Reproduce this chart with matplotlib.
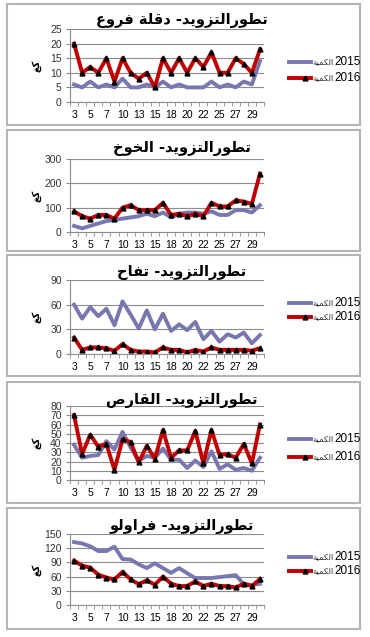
import matplotlib
matplotlib.use("Agg")
import matplotlib.pyplot as plt
from matplotlib.lines import Line2D
from matplotlib.patches import Rectangle

W, H = 370, 637

# x categories (day of month); only every other label is shown
days = ["3", "4", "5", "6", "7", "9", "10", "12", "13", "14", "15", "17",
        "18", "19", "20", "21", "22", "24", "25", "26", "27", "28", "29", "31"]

deglet_2015 = [6, 5, 7, 5, 6, 5, 8, 5, 5, 6, 5, 7, 5, 6, 5, 5, 5, 7, 5, 6, 5, 7, 6, 14]
deglet_2016 = [20, 10, 12, 10, 15, 7, 15, 10, 8, 10, 5, 15, 10, 15, 10, 15, 12, 17, 10, 10, 15, 13, 10, 18]

peach_2015 = [25, 15, 25, 35, 45, 50, 55, 60, 65, 75, 65, 80, 60, 75, 80, 80, 75, 85, 70, 70, 90, 90, 80, 110]
peach_2016 = [85, 65, 55, 70, 70, 55, 100, 110, 90, 90, 90, 120, 70, 75, 65, 75, 65, 120, 105, 105, 130, 125, 115, 240]

apple_2015 = [60, 43, 57, 46, 55, 35, 64, 48, 31, 53, 30, 49, 28, 36, 29, 39, 18, 28, 15, 24, 20, 26, 13, 23]
apple_2016 = [20, 5, 8, 8, 7, 4, 12, 5, 3, 3, 2, 8, 5, 5, 2, 5, 3, 8, 5, 5, 5, 5, 4, 7]

lemon_2015 = [38, 24, 26, 27, 42, 33, 52, 35, 21, 26, 24, 34, 22, 22, 13, 21, 14, 31, 12, 17, 11, 13, 10, 24]
lemon_2016 = [70, 28, 49, 36, 39, 11, 44, 41, 19, 37, 23, 54, 24, 32, 32, 53, 18, 54, 27, 28, 24, 39, 18, 60]

straw_2015 = [133, 130, 124, 114, 114, 123, 97, 96, 86, 78, 88, 78, 68, 78, 67, 57, 57, 57, 59, 61, 63, 44, 42, 45]
straw_2016 = [94, 83, 79, 64, 58, 54, 70, 54, 44, 52, 43, 60, 45, 40, 40, 50, 40, 45, 40, 40, 37, 45, 40, 55]

titles = ["تطورالتزويد- دقلة فروع", "تطورالتزويد- الخوخ", "تطورالتزويد- تفاح",
          "تطورالتزويد- القارص", "تطورالتزويد- فراولو"]
years = ["2015", "2016"]
qty = "الكمية"
unit = "كغ"

# arabic presentation forms: isolated, final, initial, medial
FORMS = {
    "ا": ("\uFE8D", "\uFE8E", None, None),
    "ت": ("\uFE95", "\uFE96", "\uFE97", "\uFE98"),
    "ة": ("\uFE93", "\uFE94", None, None),
    "ح": ("\uFEA1", "\uFEA2", "\uFEA3", "\uFEA4"),
    "خ": ("\uFEA5", "\uFEA6", "\uFEA7", "\uFEA8"),
    "د": ("\uFEA9", "\uFEAA", None, None),
    "ر": ("\uFEAD", "\uFEAE", None, None),
    "ز": ("\uFEAF", "\uFEB0", None, None),
    "ص": ("\uFEB9", "\uFEBA", "\uFEBB", "\uFEBC"),
    "ط": ("\uFEC1", "\uFEC2", "\uFEC3", "\uFEC4"),
    "ع": ("\uFEC9", "\uFECA", "\uFECB", "\uFECC"),
    "غ": ("\uFECD", "\uFECE", "\uFECF", "\uFED0"),
    "ف": ("\uFED1", "\uFED2", "\uFED3", "\uFED4"),
    "ق": ("\uFED5", "\uFED6", "\uFED7", "\uFED8"),
    "ك": ("\uFED9", "\uFEDA", "\uFEDB", "\uFEDC"),
    "ل": ("\uFEDD", "\uFEDE", "\uFEDF", "\uFEE0"),
    "م": ("\uFEE1", "\uFEE2", "\uFEE3", "\uFEE4"),
    "و": ("\uFEED", "\uFEEE", None, None),
    "ي": ("\uFEF1", "\uFEF2", "\uFEF3", "\uFEF4"),
}


def shape(text):
    # join letters by hand and flip to visual order (no bidi engine available)
    out = []
    for i, c in enumerate(text):
        if c not in FORMS:
            out.append(c)
            continue
        iso, fin, ini, med = FORMS[c]
        prev = text[i - 1] if i > 0 else ""
        nxt = text[i + 1] if i + 1 < len(text) else ""
        jp = prev in FORMS and FORMS[prev][2] is not None
        jn = nxt in FORMS and ini is not None
        if jp and jn:
            out.append(med)
        elif jp:
            out.append(fin)
        elif jn:
            out.append(ini)
        else:
            out.append(iso)
    return "".join(out)[::-1]


panels = [
    (deglet_2015, deglet_2016, 25, 5, 4, 29, 102, True),
    (peach_2015, peach_2016, 300, 100, 130, 159, 232, False),
    (apple_2015, apple_2016, 90, 30, 255, 280, 354, True),
    (lemon_2015, lemon_2016, 80, 10, 382, 406, 480, True),
    (straw_2015, straw_2016, 150, 30, 508, 534, 605, True),
]
box_h = 121
title_y = [20, 148, 273, 401, 526]
leg_y = [62, 187, 303, 439, 557]
leg_gap = [16, 16, 14, 18, 14]

C15 = "#7878B0"
C16 = "#C00000"
GRID = "#8C8C8C"

plt.rcParams["font.family"] = ["Liberation Sans", "DejaVu Sans"]

fig = plt.figure(figsize=(W / 100, H / 100), dpi=100)
fig.patch.set_facecolor("white")


def px(xp, yp):
    return xp / W, 1 - yp / H


x = list(range(len(days)))
for k, (s15, s16, ymax, step, btop, ytop, ybot, legend) in enumerate(panels):
    fig.patches.append(Rectangle(px(7, btop + box_h), 353 / W, box_h / H,
                                 transform=fig.transFigure, fill=False,
                                 edgecolor="#B4B4B4", lw=1.5))
    ax = fig.add_axes([70 / W, 1 - ybot / H, 194 / W, (ybot - ytop) / H])
    ax.plot(x, s15, color=C15, lw=2.8)
    ax.plot(x, s16, color=C16, lw=2.8, marker="^", ms=3.5, mfc="black", mec="black")
    ax.set_xlim(-0.5, len(days) - 0.5)
    ax.set_ylim(0, ymax)
    ax.set_yticks(range(0, ymax + 1, step))
    ax.yaxis.grid(True, color=GRID, lw=0.8)
    ax.set_axisbelow(True)
    ax.set_xticks(x[::2])
    ax.set_xticklabels(days[::2])
    ax.set_xticks([i - 0.5 for i in range(len(days) + 1)], minor=True)
    ax.tick_params(axis="x", which="major", length=0, pad=6, labelsize=7.5)
    ax.tick_params(axis="x", which="minor", length=3, color=GRID)
    ax.tick_params(axis="y", length=3, color=GRID, labelsize=7.5, labelcolor="#333333", pad=3)
    for sp in ["top", "right"]:
        ax.spines[sp].set_visible(False)
    ax.spines["left"].set_color(GRID)
    ax.spines["bottom"].set_color(GRID)

    fig.text(*px(182, title_y[k]), shape(titles[k]), ha="center", va="center",
             fontsize=10.5, fontweight="bold", family="DejaVu Sans")
    fig.text(*px(36, (ytop + ybot) / 2), shape(unit), rotation=90, ha="center",
             va="center", fontsize=7, fontweight="bold", family="DejaVu Sans")

    if legend:
        for j, (col, yr) in enumerate(zip([C15, C16], years)):
            ly = leg_y[k] + j * leg_gap[k]
            x0, y0 = px(289, ly)
            x1, _ = px(311, ly)
            fig.lines.append(Line2D([x0, x1], [y0, y0], transform=fig.transFigure,
                                    color=col, lw=2.8, zorder=1))
            if j == 1:
                fig.lines.append(Line2D([px(305, ly)[0]], [y0], transform=fig.transFigure,
                                        marker="^", ms=3.5, color="black", lw=0, zorder=1))
            fig.text(*px(312, ly), shape(qty), ha="left", va="center", fontsize=6,
                     family="DejaVu Sans", color="#333333", zorder=5)
            fig.text(*px(334, ly), yr, ha="left", va="center", fontsize=8.5)

fig.savefig("out.png", dpi=100)
